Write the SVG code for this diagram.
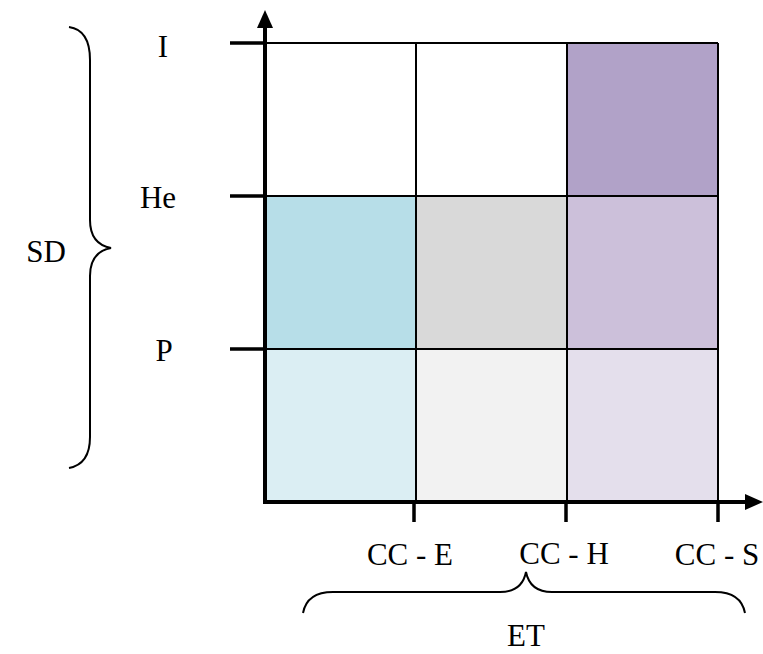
<svg xmlns="http://www.w3.org/2000/svg" width="763" height="654" viewBox="0 0 763 654">
<style>
.t{font-family:"Liberation Serif","Times New Roman",serif;font-size:31px;fill:#000}
.g{stroke:#000;stroke-width:2;fill:none}
.ax{stroke:#000;stroke-width:4;fill:none}
.tk{stroke:#000;stroke-width:3.5;fill:none}
.br{stroke:#000;stroke-width:2;fill:none}
</style>
<rect width="763" height="654" fill="#fff"/>
<g id="cells">
<rect id="c11" x="265" y="43" width="151" height="153" fill="#fff"/>
<rect id="c12" x="416" y="43" width="151" height="153" fill="#fff"/>
<rect id="c13" x="567" y="43" width="151" height="153" fill="#B1A2C8"/>
<rect id="c21" x="265" y="196" width="151" height="153" fill="#B7DEE8"/>
<rect id="c22" x="416" y="196" width="151" height="153" fill="#D9D9D9"/>
<rect id="c23" x="567" y="196" width="151" height="153" fill="#CCC0DA"/>
<rect id="c31" x="265" y="349" width="151" height="153" fill="#DBEEF3"/>
<rect id="c32" x="416" y="349" width="151" height="153" fill="#F2F2F2"/>
<rect id="c33" x="567" y="349" width="151" height="153" fill="#E4DFEC"/>
</g>
<g id="grid">
<path class="g" d="M265 43H718M265 196H718M265 349H718M416 43V502M567 43V502M718 43V502"/>
</g>
<g id="connectors">
<path class="ax" d="M265 504V24"/>
<polygon points="265,10 257,28 273,28" fill="#000"/>
<path class="ax" d="M263 502H748"/>
<polygon points="763,502 745,494 745,510" fill="#000"/>
<path class="tk" d="M230 43H265M230 196H265M230 349H265"/>
<path class="tk" d="M414 502V522M566 502V522M718 502V522"/>
</g>
<g id="braceSD">
<path class="br" d="M69 27Q90 30 90 60V220Q90 244 111 248Q90 252 90 276V437Q90 464 69 468"/>
</g>
<g id="braceET">
<path class="br" d="M303 613Q307 592 333 592H500Q522 592 526 572Q530 592 552 592H715Q741 592 745 613"/>
</g>
<g id="labels">
<text class="t" x="163" y="57" text-anchor="middle">I</text>
<text class="t" x="158" y="208" text-anchor="middle">He</text>
<text class="t" x="164" y="361" text-anchor="middle">P</text>
<text class="t" x="46" y="262" text-anchor="middle">SD</text>
<text class="t" x="410" y="565" text-anchor="middle">CC - E</text>
<text class="t" x="564" y="564" text-anchor="middle">CC - H</text>
<text class="t" x="717" y="565" text-anchor="middle">CC - S</text>
<text class="t" x="526" y="646" text-anchor="middle">ET</text>
</g>
</svg>
